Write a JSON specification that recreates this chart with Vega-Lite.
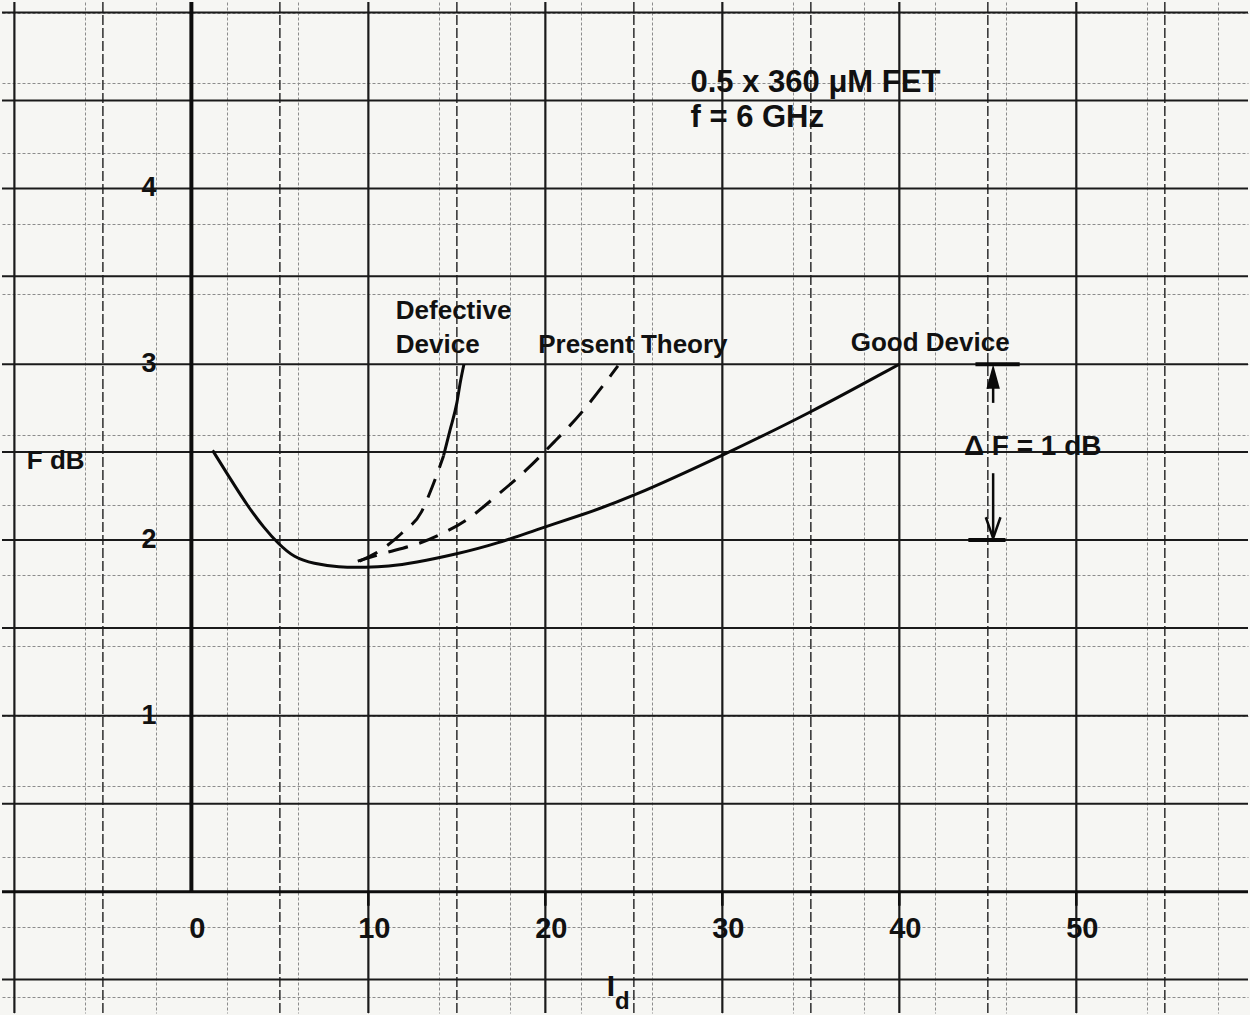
{
  "$schema": "https://vega.github.io/schema/vega-lite/v6.json",
  "width": 1250,
  "height": 1015,
  "autosize": {"type": "fit", "contains": "padding"},
  "padding": 0,
  "background": "#f6f6f3",
  "data": {"values": [{}]},
  "config": {
    "view": {"stroke": null},
    "axis": {"minExtent": 0, "maxExtent": 0, "labels": false, "ticks": false, "domain": false, "title": null},
    "text": {"font": "Liberation Sans", "fontWeight": "bold", "color": "#111"}
  },
  "datasets": {
    "curves": [
      {"curve": "good", "I_d": 1.2, "F": 2.51},
      {"curve": "good", "I_d": 2.25, "F": 2.34},
      {"curve": "good", "I_d": 3.2, "F": 2.19},
      {"curve": "good", "I_d": 4.1, "F": 2.07},
      {"curve": "good", "I_d": 4.9, "F": 1.98},
      {"curve": "good", "I_d": 5.8, "F": 1.9},
      {"curve": "good", "I_d": 6.9, "F": 1.865},
      {"curve": "good", "I_d": 8.3, "F": 1.845},
      {"curve": "good", "I_d": 9.9, "F": 1.845},
      {"curve": "good", "I_d": 11.1, "F": 1.85},
      {"curve": "good", "I_d": 12.6, "F": 1.87},
      {"curve": "good", "I_d": 15.0, "F": 1.92},
      {"curve": "good", "I_d": 17.3, "F": 1.98},
      {"curve": "good", "I_d": 19.8, "F": 2.07},
      {"curve": "good", "I_d": 22.0, "F": 2.14},
      {"curve": "good", "I_d": 24.8, "F": 2.24},
      {"curve": "good", "I_d": 30.0, "F": 2.48},
      {"curve": "good", "I_d": 34.9, "F": 2.72},
      {"curve": "good", "I_d": 40.0, "F": 3.0},
      {"curve": "theory", "I_d": 9.4, "F": 1.88},
      {"curve": "theory", "I_d": 11.0, "F": 1.93},
      {"curve": "theory", "I_d": 13.0, "F": 1.98},
      {"curve": "theory", "I_d": 14.25, "F": 2.04},
      {"curve": "theory", "I_d": 15.6, "F": 2.11},
      {"curve": "theory", "I_d": 17.1, "F": 2.24},
      {"curve": "theory", "I_d": 19.0, "F": 2.4},
      {"curve": "theory", "I_d": 20.5, "F": 2.56},
      {"curve": "theory", "I_d": 22.0, "F": 2.71},
      {"curve": "theory", "I_d": 24.1, "F": 2.99},
      {"curve": "defective_extrap", "I_d": 9.5, "F": 1.88},
      {"curve": "defective_extrap", "I_d": 10.8, "F": 1.95},
      {"curve": "defective_extrap", "I_d": 11.9, "F": 2.04},
      {"curve": "defective_extrap", "I_d": 13.0, "F": 2.16},
      {"curve": "defective_extrap", "I_d": 13.6, "F": 2.3},
      {"curve": "defective_extrap", "I_d": 14.25, "F": 2.48},
      {"curve": "defective", "I_d": 14.25, "F": 2.48},
      {"curve": "defective", "I_d": 14.6, "F": 2.62},
      {"curve": "defective", "I_d": 15.0, "F": 2.78},
      {"curve": "defective", "I_d": 15.2, "F": 2.9},
      {"curve": "defective", "I_d": 15.4, "F": 3.0}
    ],
    "gridX10": [{"I_d": -10}, {"I_d": 10}, {"I_d": 20}, {"I_d": 30}, {"I_d": 40}, {"I_d": 50}],
    "gridX5": [{"I_d": -5}, {"I_d": 5}, {"I_d": 15}, {"I_d": 25}, {"I_d": 35}, {"I_d": 45}, {"I_d": 55}],
    "gridF": [{"F": -0.5}, {"F": 0.5}, {"F": 1}, {"F": 1.5}, {"F": 2}, {"F": 2.5}, {"F": 3}, {"F": 3.5}, {"F": 4}, {"F": 4.5}, {"F": 5}],
    "labelsX": [{"I_d": 0, "t": "0"}, {"I_d": 10, "t": "10"}, {"I_d": 20, "t": "20"}, {"I_d": 30, "t": "30"}, {"I_d": 40, "t": "40"}, {"I_d": 50, "t": "50"}],
    "labelsF": [{"F": 1, "t": "1"}, {"F": 2, "t": "2"}, {"F": 3, "t": "3"}, {"F": 4, "t": "4"}],
    "notes": [
      {"I_d": 11.55, "F": 3.3, "t": "Defective"},
      {"I_d": 11.55, "F": 3.11, "t": "Device"},
      {"I_d": 19.6, "F": 3.11, "t": "Present Theory"},
      {"I_d": 37.25, "F": 3.12, "t": "Good Device"},
      {"I_d": -9.3, "F": 2.45, "t": "F dB"}
    ],
    "heading": [
      {"I_d": 28.2, "F": 4.6, "t": "0.5 x 360 μM FET"},
      {"I_d": 28.2, "F": 4.4, "t": "f = 6 GHz"}
    ],
    "bars": [
      {"I_d": 44.3, "I_d2": 46.8, "F": 3},
      {"I_d": 43.9, "I_d2": 46.0, "F": 2}
    ],
    "shafts": [
      {"I_d": 45.3, "F": 2.78, "F2": 2.95},
      {"I_d": 45.3, "F": 2.38, "F2": 2.02}
    ]
  },
  "layer": [
    {
      "data": {"name": "gridX10"},
      "mark": {"type": "rule", "color": "#1a1a1a", "strokeWidth": 2.2},
      "encoding": {
        "x": {
          "field": "I_d", "type": "quantitative",
          "scale": {"domain": [-10.7, 59.7], "nice": false, "zero": false},
          "axis": {
            "grid": true, "gridColor": "#8c8c8c", "gridWidth": 1, "gridDash": [3, 2],
            "values": [-10, -9, -8, -7, -6, -5, -4, -3, -2, -1, 0, 1, 2, 3, 4, 5, 6, 7, 8, 9, 10, 11, 12, 13, 14, 15, 16, 17, 18, 19, 20, 21, 22, 23, 24, 25, 26, 27, 28, 29, 30, 31, 32, 33, 34, 35, 36, 37, 38, 39, 40, 41, 42, 43, 44, 45, 46, 47, 48, 49, 50, 51, 52, 53, 54, 55, 56, 57, 58, 59]
          }
        }
      }
    },
    {
      "data": {"name": "gridX5"},
      "mark": {"type": "rule", "color": "#3a3a3a", "strokeWidth": 1.6, "strokeDash": [10, 3]},
      "encoding": {
        "x": {"field": "I_d", "type": "quantitative", "scale": {"domain": [-10.7, 59.7], "nice": false, "zero": false}}
      }
    },
    {
      "data": {"name": "gridF"},
      "mark": {"type": "rule", "color": "#1a1a1a", "strokeWidth": 2},
      "encoding": {
        "y": {
          "field": "F", "type": "quantitative",
          "scale": {"domain": [-0.69, 5.06], "nice": false, "zero": false},
          "axis": {
            "grid": true, "gridColor": "#8c8c8c", "gridWidth": 1, "gridDash": [3, 2],
            "values": [-0.6, -0.5, -0.4, -0.3, -0.2, -0.1, 0, 0.1, 0.2, 0.3, 0.4, 0.5, 0.6, 0.7, 0.8, 0.9, 1, 1.1, 1.2, 1.3, 1.4, 1.5, 1.6, 1.7, 1.8, 1.9, 2, 2.1, 2.2, 2.3, 2.4, 2.5, 2.6, 2.7, 2.8, 2.9, 3, 3.1, 3.2, 3.3, 3.4, 3.5, 3.6, 3.7, 3.8, 3.9, 4, 4.1, 4.2, 4.3, 4.4, 4.5, 4.6, 4.7, 4.8, 4.9, 5]
          }
        }
      }
    },
    {
      "mark": {"type": "rule", "color": "#0d0d0d", "strokeWidth": 3},
      "encoding": {"y": {"datum": 0, "scale": {"domain": [-0.69, 5.06], "nice": false, "zero": false}}}
    },
    {
      "mark": {"type": "rule", "color": "#0d0d0d", "strokeWidth": 4},
      "encoding": {
        "x": {"datum": 0, "scale": {"domain": [-10.7, 59.7], "nice": false, "zero": false}},
        "y": {"datum": 0, "scale": {"domain": [-0.69, 5.06], "nice": false, "zero": false}},
        "y2": {"datum": 5.06}
      }
    },
    {
      "data": {"name": "labelsX"},
      "transform": [{"filter": "datum.I_d > 0"}],
      "mark": {"type": "rule", "color": "#0d0d0d", "strokeWidth": 2.5},
      "encoding": {
        "x": {"field": "I_d", "type": "quantitative", "scale": {"domain": [-10.7, 59.7], "nice": false, "zero": false}},
        "y": {"datum": 0, "scale": {"domain": [-0.69, 5.06], "nice": false, "zero": false}},
        "y2": {"datum": -0.08}
      }
    },
    {
      "data": {"name": "curves"},
      "transform": [{"filter": "datum.curve === 'good'"}],
      "mark": {"type": "line", "color": "#0a0a0a", "strokeWidth": 3, "interpolate": "basis"},
      "encoding": {
        "x": {"field": "I_d", "type": "quantitative", "scale": {"domain": [-10.7, 59.7], "nice": false, "zero": false}},
        "y": {"field": "F", "type": "quantitative", "scale": {"domain": [-0.69, 5.06], "nice": false, "zero": false}}
      }
    },
    {
      "data": {"name": "curves"},
      "transform": [{"filter": "datum.curve === 'theory'"}],
      "mark": {"type": "line", "color": "#0a0a0a", "strokeWidth": 3, "strokeDash": [20, 12], "interpolate": "basis"},
      "encoding": {
        "x": {"field": "I_d", "type": "quantitative", "scale": {"domain": [-10.7, 59.7], "nice": false, "zero": false}},
        "y": {"field": "F", "type": "quantitative", "scale": {"domain": [-0.69, 5.06], "nice": false, "zero": false}}
      }
    },
    {
      "data": {"name": "curves"},
      "transform": [{"filter": "datum.curve === 'defective_extrap'"}],
      "mark": {"type": "line", "color": "#0a0a0a", "strokeWidth": 3, "strokeDash": [20, 12], "interpolate": "monotone"},
      "encoding": {
        "x": {"field": "I_d", "type": "quantitative", "scale": {"domain": [-10.7, 59.7], "nice": false, "zero": false}},
        "y": {"field": "F", "type": "quantitative", "scale": {"domain": [-0.69, 5.06], "nice": false, "zero": false}}
      }
    },
    {
      "data": {"name": "curves"},
      "transform": [{"filter": "datum.curve === 'defective'"}],
      "mark": {"type": "line", "color": "#0a0a0a", "strokeWidth": 3, "interpolate": "monotone"},
      "encoding": {
        "x": {"field": "I_d", "type": "quantitative", "scale": {"domain": [-10.7, 59.7], "nice": false, "zero": false}},
        "y": {"field": "F", "type": "quantitative", "scale": {"domain": [-0.69, 5.06], "nice": false, "zero": false}}
      }
    },
    {
      "data": {"name": "bars"},
      "mark": {"type": "rule", "color": "#0a0a0a", "strokeWidth": 4},
      "encoding": {
        "x": {"field": "I_d", "type": "quantitative", "scale": {"domain": [-10.7, 59.7], "nice": false, "zero": false}},
        "x2": {"field": "I_d2"},
        "y": {"field": "F", "type": "quantitative", "scale": {"domain": [-0.69, 5.06], "nice": false, "zero": false}}
      }
    },
    {
      "data": {"name": "shafts"},
      "mark": {"type": "rule", "color": "#0a0a0a", "strokeWidth": 2.5},
      "encoding": {
        "x": {"field": "I_d", "type": "quantitative", "scale": {"domain": [-10.7, 59.7], "nice": false, "zero": false}},
        "y": {"field": "F", "type": "quantitative", "scale": {"domain": [-0.69, 5.06], "nice": false, "zero": false}},
        "y2": {"field": "F2"}
      }
    },
    {
      "mark": {"type": "point", "shape": "M-0.55,1L0,-1L0.55,1Z", "filled": true, "color": "#0a0a0a", "size": 600, "opacity": 1},
      "encoding": {
        "x": {"datum": 45.3, "scale": {"domain": [-10.7, 59.7], "nice": false, "zero": false}},
        "y": {"datum": 2.93, "scale": {"domain": [-0.69, 5.06], "nice": false, "zero": false}}
      }
    },
    {
      "mark": {"type": "point", "shape": "M-0.7,-1L0,1L0.7,-1", "filled": false, "color": "#0a0a0a", "strokeWidth": 2.5, "size": 440, "opacity": 1},
      "encoding": {
        "x": {"datum": 45.3, "scale": {"domain": [-10.7, 59.7], "nice": false, "zero": false}},
        "y": {"datum": 2.07, "scale": {"domain": [-0.69, 5.06], "nice": false, "zero": false}}
      }
    },
    {
      "data": {"name": "labelsX"},
      "mark": {"type": "text", "fontSize": 29, "align": "center", "baseline": "middle", "dx": 6},
      "encoding": {
        "x": {"field": "I_d", "type": "quantitative", "scale": {"domain": [-10.7, 59.7], "nice": false, "zero": false}},
        "y": {"datum": -0.21, "scale": {"domain": [-0.69, 5.06], "nice": false, "zero": false}},
        "text": {"field": "t"}
      }
    },
    {
      "data": {"name": "labelsF"},
      "mark": {"type": "text", "fontSize": 27, "align": "center", "baseline": "middle"},
      "encoding": {
        "x": {"datum": -2.4, "scale": {"domain": [-10.7, 59.7], "nice": false, "zero": false}},
        "y": {"field": "F", "type": "quantitative", "scale": {"domain": [-0.69, 5.06], "nice": false, "zero": false}},
        "text": {"field": "t"}
      }
    },
    {
      "data": {"name": "notes"},
      "mark": {"type": "text", "fontSize": 26, "align": "left", "baseline": "middle"},
      "encoding": {
        "x": {"field": "I_d", "type": "quantitative", "scale": {"domain": [-10.7, 59.7], "nice": false, "zero": false}},
        "y": {"field": "F", "type": "quantitative", "scale": {"domain": [-0.69, 5.06], "nice": false, "zero": false}},
        "text": {"field": "t"}
      }
    },
    {
      "mark": {"type": "text", "text": "Δ F = 1 dB", "fontSize": 28, "align": "left", "baseline": "middle"},
      "encoding": {
        "x": {"datum": 43.65, "scale": {"domain": [-10.7, 59.7], "nice": false, "zero": false}},
        "y": {"datum": 2.53, "scale": {"domain": [-0.69, 5.06], "nice": false, "zero": false}}
      }
    },
    {
      "data": {"name": "heading"},
      "mark": {"type": "text", "fontSize": 31, "align": "left", "baseline": "middle"},
      "encoding": {
        "x": {"field": "I_d", "type": "quantitative", "scale": {"domain": [-10.7, 59.7], "nice": false, "zero": false}},
        "y": {"field": "F", "type": "quantitative", "scale": {"domain": [-0.69, 5.06], "nice": false, "zero": false}},
        "text": {"field": "t"}
      }
    },
    {
      "mark": {"type": "text", "text": "I", "fontSize": 30, "align": "center", "baseline": "middle"},
      "encoding": {
        "x": {"datum": 23.7, "scale": {"domain": [-10.7, 59.7], "nice": false, "zero": false}},
        "y": {"datum": -0.54, "scale": {"domain": [-0.69, 5.06], "nice": false, "zero": false}}
      }
    },
    {
      "mark": {"type": "text", "text": "d", "fontSize": 24, "align": "center", "baseline": "middle"},
      "encoding": {
        "x": {"datum": 24.35, "scale": {"domain": [-10.7, 59.7], "nice": false, "zero": false}},
        "y": {"datum": -0.625, "scale": {"domain": [-0.69, 5.06], "nice": false, "zero": false}}
      }
    }
  ]
}
